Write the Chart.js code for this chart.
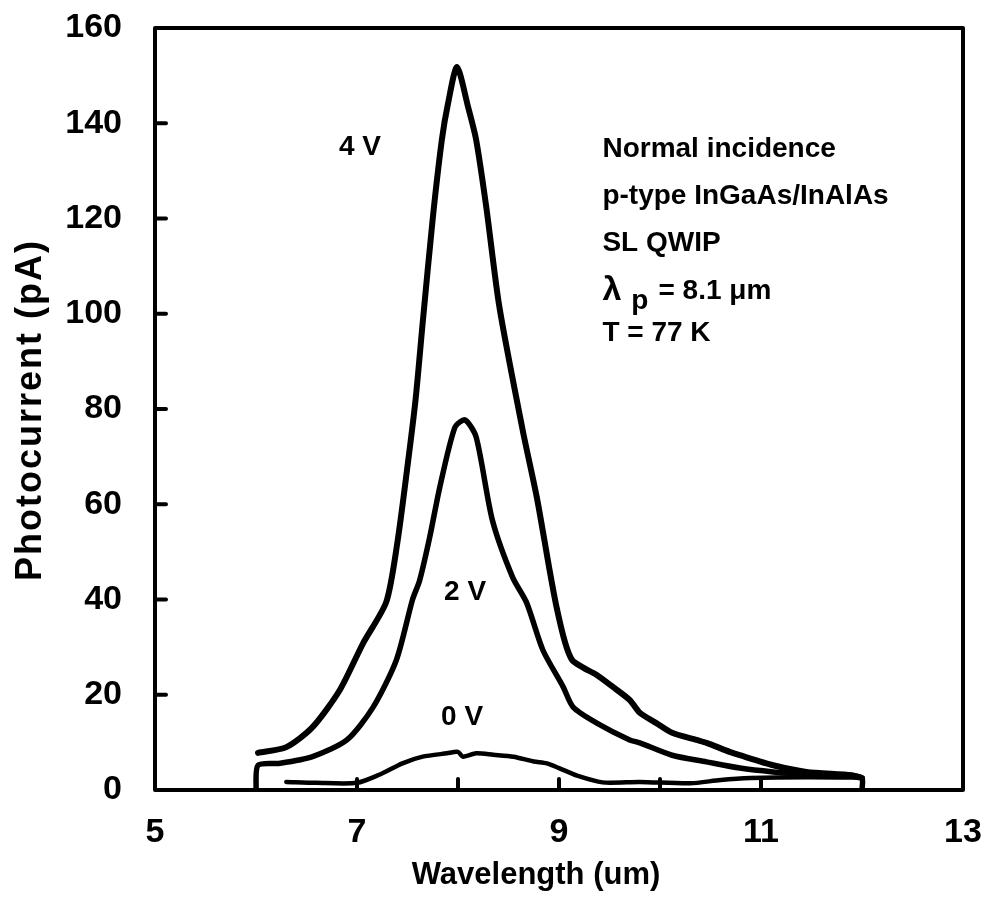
<!DOCTYPE html>
<html>
<head>
<meta charset="utf-8">
<script src="https://cdn.jsdelivr.net/npm/chart.js@4.4.0/dist/chart.umd.min.js"></script>
<style>
  html, body { margin: 0; padding: 0; background: #fff; }
  #wrap { width: 981px; height: 921px; }
</style>
</head>
<body>
<div id="wrap"><canvas id="spectrumChart" width="981" height="921"></canvas></div>
<script>
// Photocurrent spectra at three bias voltages
const wl4V = [6.02, 6.3, 6.56, 6.83, 7.06, 7.29, 7.4, 7.5, 7.58, 7.65, 7.75, 7.84, 7.9, 7.99, 8.1, 8.18, 8.28, 8.41, 8.64, 8.78, 8.9, 8.97, 9.06, 9.13, 9.23, 9.37, 9.53, 9.7, 9.8, 9.96, 10.12, 10.36, 10.46, 10.69, 10.79, 11.12, 11.45, 11.9, 12.0];
const pa4V = [7.8, 9.0, 13.2, 21.0, 30.8, 39.5, 52.0, 68.0, 82.0, 98.0, 120.0, 136.5, 144.0, 151.8, 143.4, 136.5, 122.4, 101.4, 75.6, 61.5, 47.0, 39.0, 31.0, 27.3, 25.8, 24.2, 21.7, 18.9, 16.2, 14.1, 12.0, 10.5, 9.9, 8.0, 7.3, 5.2, 3.8, 3.1, 2.5];

const wl2V = [6.0, 6.02, 6.24, 6.56, 6.9, 7.16, 7.39, 7.55, 7.62, 7.72, 7.82, 7.97, 8.07, 8.18, 8.34, 8.54, 8.68, 8.84, 9.04, 9.14, 9.37, 9.7, 9.8, 10.12, 10.46, 10.79, 11.12, 11.45, 11.9, 12.0, 12.0];
const pa2V = [0, 5.2, 5.6, 7.0, 10.5, 17.4, 27.3, 40.0, 44.0, 53.1, 63.6, 76.2, 77.7, 74.1, 56.7, 44.7, 39.3, 29.4, 21.7, 17.4, 14.1, 10.5, 9.9, 7.3, 5.9, 4.6, 3.8, 3.3, 3.0, 2.5, 0];

const wl0V = [6.3, 6.6, 7.0, 7.22, 7.45, 7.65, 7.89, 8.0, 8.05, 8.18, 8.35, 8.55, 8.75, 8.88, 9.0, 9.18, 9.43, 9.8, 10.3, 10.6, 10.9, 11.45, 11.9, 12.0];
const pa0V = [1.7, 1.5, 1.5, 3.2, 5.6, 7.0, 7.7, 8.0, 7.0, 7.7, 7.4, 7.0, 6.0, 5.6, 4.6, 3.0, 1.6, 1.7, 1.4, 2.1, 2.5, 2.7, 2.6, 2.5];

const xTickLabels = [5, 7, 9, 11, 13];
const yTickLabels = [0, 20, 40, 60, 80, 100, 120, 140, 160];

const infoLines = ['Normal incidence', 'p-type InGaAs/InAlAs', 'SL QWIP'];

const toPoints = (xs, ys) => xs.map((x, i) => ({ x: x, y: ys[i] }));

const BOLD = '"Liberation Sans", Arial, sans-serif';

function curve(label, xs, ys, width) {
  return {
    label: label,
    data: toPoints(xs, ys),
    showLine: true,
    borderColor: '#000',
    borderWidth: width,
    borderCapStyle: 'round',
    borderJoinStyle: 'round',
    pointRadius: 0,
    tension: 0.25
  };
}

// frame box, inward tick marks, axis titles and the text notes
const framePlugin = {
  id: 'frame',
  afterDraw(chart) {
    const { ctx, chartArea: a, scales: { x, y } } = chart;
    ctx.save();
    ctx.strokeStyle = '#000';
    ctx.lineWidth = 4;
    ctx.lineJoin = 'round';
    ctx.strokeRect(a.left, a.top, a.right - a.left, a.bottom - a.top);

    ctx.lineCap = 'round';
    ctx.beginPath();
    y.ticks.forEach(t => {
      if (t.value > 0 && t.value < 160) {
        const py = y.getPixelForValue(t.value);
        ctx.moveTo(a.left, py);
        ctx.lineTo(a.left + 11, py);
      }
    });
    x.ticks.forEach(t => {
      if (t.value > 5 && t.value < 13) {
        const px = x.getPixelForValue(t.value);
        ctx.moveTo(px, a.bottom);
        ctx.lineTo(px, a.bottom - 11);
      }
    });
    ctx.stroke();

    ctx.fillStyle = '#000';
    ctx.textBaseline = 'middle';
    ctx.textAlign = 'center';

    // axis titles
    ctx.font = 'bold 31px ' + BOLD;
    ctx.fillText('Wavelength (um)', 536, 875);
    ctx.save();
    ctx.translate(31, 410);
    ctx.rotate(-Math.PI / 2);
    ctx.font = 'bold 36px ' + BOLD;
    ctx.letterSpacing = '2px';
    ctx.fillText('Photocurrent (pA)', 0, 0);
    ctx.restore();

    ctx.font = 'bold 28px ' + BOLD;
    ctx.fillText('4 V', x.getPixelForValue(7.03), y.getPixelForValue(135));
    ctx.fillText('2 V', x.getPixelForValue(8.07), y.getPixelForValue(41.5));
    ctx.fillText('0 V', x.getPixelForValue(8.04), y.getPixelForValue(15.3));

    ctx.textAlign = 'left';
    ctx.font = 'bold 28px ' + BOLD;
    const tx = x.getPixelForValue(9.43);
    infoLines.forEach((s, i) => {
      ctx.fillText(s, tx, y.getPixelForValue(134.5 - i * 9.9));
    });
    // lambda_p line with subscript
    const ly = y.getPixelForValue(104.8);
    ctx.font = 'bold 34px ' + BOLD;
    ctx.fillText('λ', tx, ly);
    let cx = tx + ctx.measureText('λ').width + 10;
    ctx.font = 'bold 28px ' + BOLD;
    ctx.fillText('p', cx, ly + 10);
    cx += ctx.measureText('p').width + 10;
    ctx.fillText('= 8.1 μm', cx, ly);
    ctx.fillText('T = 77 K', tx, y.getPixelForValue(95.8));
    ctx.restore();
  }
};

const ctx = document.getElementById('spectrumChart').getContext('2d');
new Chart(ctx, {
  type: 'scatter',
  data: {
    datasets: [
      curve('4 V', wl4V, pa4V, 6),
      curve('2 V', wl2V, pa2V, 5.5),
      curve('0 V', wl0V, pa0V, 4.5)
    ]
  },
  options: {
    responsive: false,
    animation: false,
    devicePixelRatio: 1,
    layout: { padding: { left: 0, right: 18, top: 28, bottom: 0 } },
    plugins: {
      legend: { display: false },
      tooltip: { enabled: false }
    },
    scales: {
      x: {
        type: 'linear',
        min: 5,
        max: 13,
        afterFit: s => {
          s.height = 131;
          s.paddingLeft = 0;
          s.paddingRight = 0;
        },
        grid: { display: false, drawTicks: false },
        border: { display: false },
        ticks: {
          stepSize: 1,
          padding: 22,
          color: '#000',
          font: { family: BOLD, size: 34, weight: 'bold' },
          callback: v => xTickLabels.includes(v) ? String(v) : ''
        }
      },
      y: {
        min: 0,
        max: 160,
        afterFit: s => {
          s.width = 155;
          s.paddingTop = 0;
          s.paddingBottom = 0;
        },
        grid: { display: false, drawTicks: false },
        border: { display: false },
        ticks: {
          stepSize: 20,
          padding: 33,
          color: '#000',
          font: { family: BOLD, size: 34, weight: 'bold' },
          callback: v => yTickLabels.includes(v) ? String(v) : ''
        }
      }
    }
  },
  plugins: [framePlugin]
});
</script>
</body>
</html>
